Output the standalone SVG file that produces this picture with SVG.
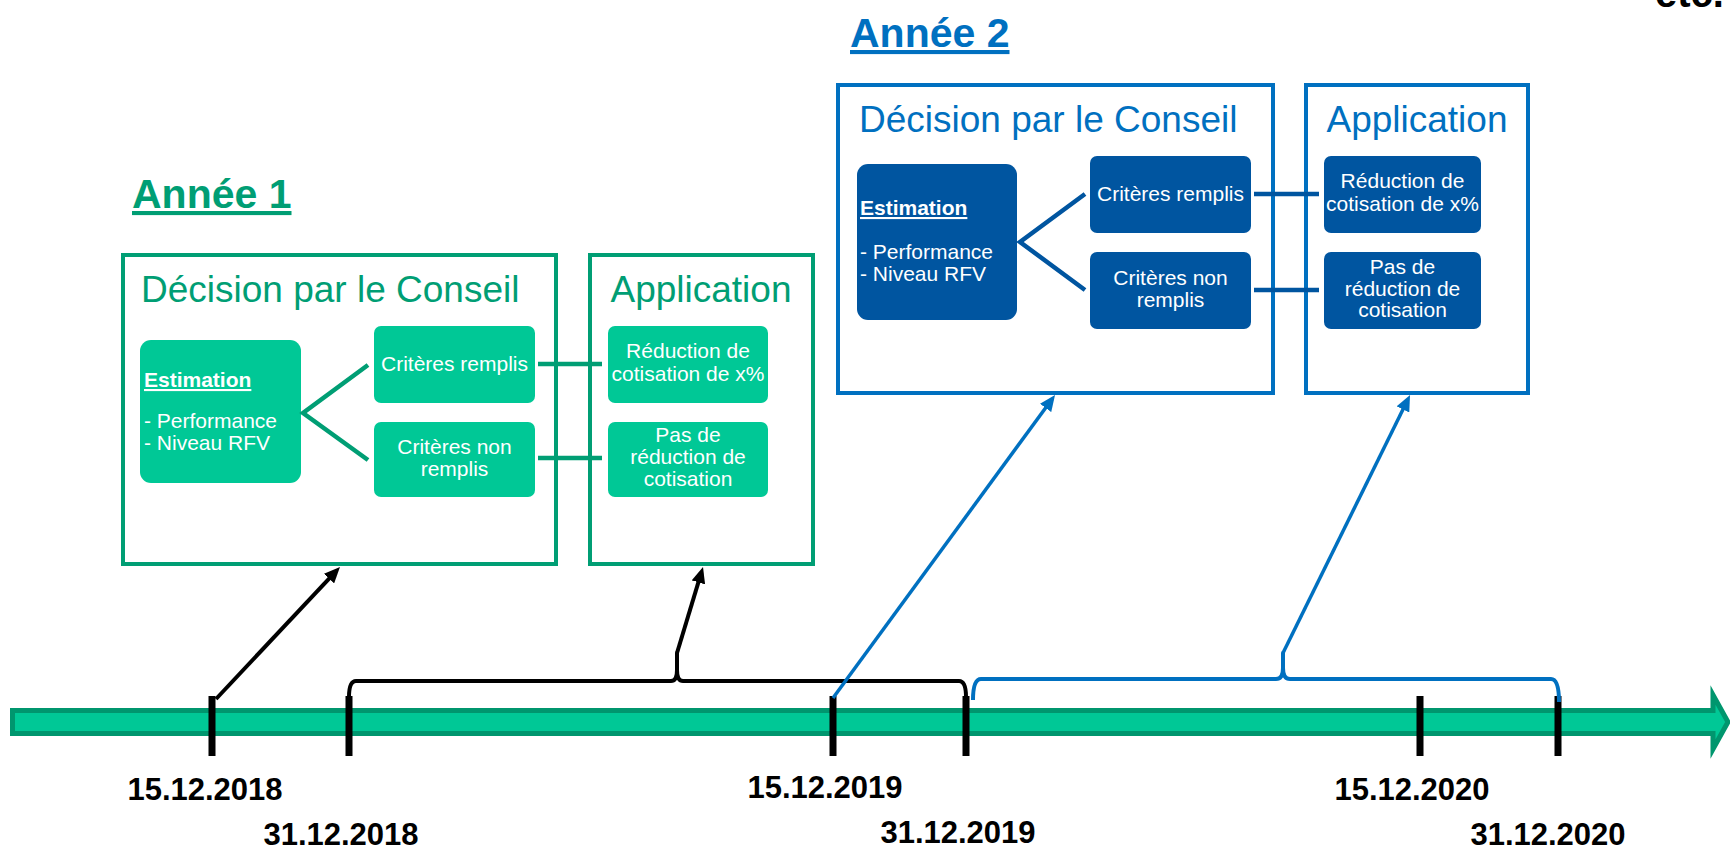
<svg xmlns="http://www.w3.org/2000/svg" width="1730" height="853" viewBox="0 0 1730 853">
<style>
text{font-family:"Liberation Sans",Arial,sans-serif}
.gfr{fill:none;stroke:#009E74;stroke-width:4}
.bfr{fill:none;stroke:#0070C0;stroke-width:4}
.gbox{fill:#00C896}
.bbox{fill:#0055A0}
.wt{fill:#fff;font-size:21px}
.wtc{fill:#fff;font-size:21px;text-anchor:middle}
.est{fill:#fff;font-size:21px;font-weight:bold;text-decoration:underline}
.gtitle{fill:#009E74;font-size:37px}
.btitle{fill:#0070C0;font-size:37px}
.year{font-size:41px;font-weight:bold;text-decoration:underline}
.date{fill:#000;font-size:31px;font-weight:bold;text-anchor:middle}
.gline{fill:none;stroke:#009E74;stroke-width:4.5}
.bline{fill:none;stroke:#0055A0;stroke-width:4.5}
.tick{fill:#000}
</style>
<defs>
<marker id="ahk" viewBox="0 0 16 14" refX="8" refY="7" markerWidth="16" markerHeight="14" markerUnits="userSpaceOnUse" orient="auto"><path d="M0,0 L16,7 L0,14 z" fill="#000"/></marker>
<marker id="ahb" viewBox="0 0 16 14" refX="8" refY="7" markerWidth="16" markerHeight="14" markerUnits="userSpaceOnUse" orient="auto"><path d="M0,0 L16,7 L0,14 z" fill="#0070C0"/></marker>
</defs>

<text x="1655" y="7" style="font-size:40px;font-weight:bold;fill:#000">etc.</text>

<g id="year1-label"><text x="132" y="208" class="year" fill="#009E74">Année 1</text></g>
<g id="year2-label"><text x="850" y="47" class="year" fill="#0070C0">Année 2</text></g>

<!-- Year 1 -->
<g id="y1-decision">
<rect x="123" y="255" width="433" height="309" class="gfr"/>
<text x="141" y="302" class="gtitle">Décision par le Conseil</text>
</g>
<g id="y1-estimation">
<rect x="140" y="340" width="161" height="143" rx="11" class="gbox"/>
<text x="144" y="387" class="est">Estimation</text>
<text x="144" y="428" class="wt">- Performance</text>
<text x="144" y="450" class="wt">- Niveau RFV</text>
</g>
<g id="y1-crit-ok">
<rect x="374" y="326" width="161" height="77" rx="7" class="gbox"/>
<text x="454.5" y="371" class="wtc">Critères remplis</text>
</g>
<g id="y1-crit-no">
<rect x="374" y="422" width="161" height="75" rx="7" class="gbox"/>
<text x="454.5" y="454" class="wtc">Critères non</text>
<text x="454.5" y="476" class="wtc">remplis</text>
</g>
<g id="y1-application">
<rect x="590" y="255" width="223" height="309" class="gfr"/>
<text x="701" y="302" class="gtitle" text-anchor="middle">Application</text>
</g>
<g id="y1-reduction">
<rect x="608" y="326" width="160" height="77" rx="7" class="gbox"/>
<text x="688" y="358" class="wtc">Réduction de</text>
<text x="688" y="381" class="wtc">cotisation de x%</text>
</g>
<g id="y1-noreduction">
<rect x="608" y="422" width="160" height="75" rx="7" class="gbox"/>
<text x="688" y="442" class="wtc">Pas de</text>
<text x="688" y="464" class="wtc">réduction de</text>
<text x="688" y="486" class="wtc">cotisation</text>
</g>

<!-- Year 2 -->
<g id="y2-decision">
<rect x="838" y="85" width="435" height="308" class="bfr"/>
<text x="859" y="132" class="btitle">Décision par le Conseil</text>
</g>
<g id="y2-estimation">
<rect x="857" y="164" width="160" height="156" rx="11" class="bbox"/>
<text x="860" y="215" class="est">Estimation</text>
<text x="860" y="259" class="wt">- Performance</text>
<text x="860" y="281" class="wt">- Niveau RFV</text>
</g>
<g id="y2-crit-ok">
<rect x="1090" y="156" width="161" height="77" rx="7" class="bbox"/>
<text x="1170.5" y="201" class="wtc">Critères remplis</text>
</g>
<g id="y2-crit-no">
<rect x="1090" y="252" width="161" height="77" rx="7" class="bbox"/>
<text x="1170.5" y="285" class="wtc">Critères non</text>
<text x="1170.5" y="307" class="wtc">remplis</text>
</g>
<g id="y2-application">
<rect x="1306" y="85" width="222" height="308" class="bfr"/>
<text x="1417" y="132" class="btitle" text-anchor="middle">Application</text>
</g>
<g id="y2-reduction">
<rect x="1324" y="156" width="157" height="77" rx="7" class="bbox"/>
<text x="1402.5" y="188" class="wtc">Réduction de</text>
<text x="1402.5" y="211" class="wtc">cotisation de x%</text>
</g>
<g id="y2-noreduction">
<rect x="1324" y="252" width="157" height="77" rx="7" class="bbox"/>
<text x="1402.5" y="274" class="wtc">Pas de</text>
<text x="1402.5" y="296" class="wtc">réduction de</text>
<text x="1402.5" y="317" class="wtc">cotisation</text>
</g>

<!-- Timeline -->
<g id="timeline">
<path d="M12.5,710.5 H1713 V695 L1728,722 L1713,749 V733.5 H12.5 Z" fill="#00C896" stroke="#00966E" stroke-width="5"/>
<rect x="208.5" y="696" width="7" height="60" class="tick"/>
<rect x="345.5" y="696" width="7" height="60" class="tick"/>
<rect x="829.5" y="696" width="7" height="60" class="tick"/>
<rect x="962.5" y="696" width="7" height="60" class="tick"/>
<rect x="1416.5" y="696" width="7" height="60" class="tick"/>
<rect x="1554.5" y="696" width="7" height="60" class="tick"/>
<text x="205" y="800" class="date">15.12.2018</text>
<text x="341" y="845" class="date">31.12.2018</text>
<text x="825" y="798" class="date">15.12.2019</text>
<text x="958" y="843" class="date">31.12.2019</text>
<text x="1412" y="800" class="date">15.12.2020</text>
<text x="1548" y="845" class="date">31.12.2020</text>
</g>

<!-- Connectors -->
<g id="connectors">
<path d="M368,365 L303,413 L368,460" class="gline"/>
<line x1="538" y1="364" x2="602" y2="364" class="gline"/>
<line x1="538" y1="458" x2="602" y2="458" class="gline"/>
<path d="M1085,194 L1020,242 L1085,290" class="bline"/>
<line x1="1254" y1="194" x2="1319" y2="194" class="bline"/>
<line x1="1254" y1="290" x2="1319" y2="290" class="bline"/>

<path d="M349,697 Q349,681 356,681 H671 Q677,681 677,670 L677,653 L677,670 Q677,681 683,681 H959 Q966,681 966,697" fill="none" stroke="#000" stroke-width="4" stroke-linejoin="round"/>
<path d="M973,700 Q973,679 981,679 H1276 Q1283,679 1283,668 L1283,653 L1283,668 Q1283,679 1290,679 H1551 Q1559,679 1559,702" fill="none" stroke="#0070C0" stroke-width="4" stroke-linejoin="round"/>

<line x1="216" y1="699" x2="334.5" y2="572.8" stroke="#000" stroke-width="4" marker-end="url(#ahk)"/>
<line x1="677" y1="653" x2="700.7" y2="574.7" stroke="#000" stroke-width="4" marker-end="url(#ahk)"/>
<line x1="833" y1="698" x2="1050.3" y2="401.5" stroke="#0070C0" stroke-width="3.5" marker-end="url(#ahb)"/>
<line x1="1283" y1="653" x2="1406.5" y2="402.2" stroke="#0070C0" stroke-width="3.5" marker-end="url(#ahb)"/>
</g>
</svg>
